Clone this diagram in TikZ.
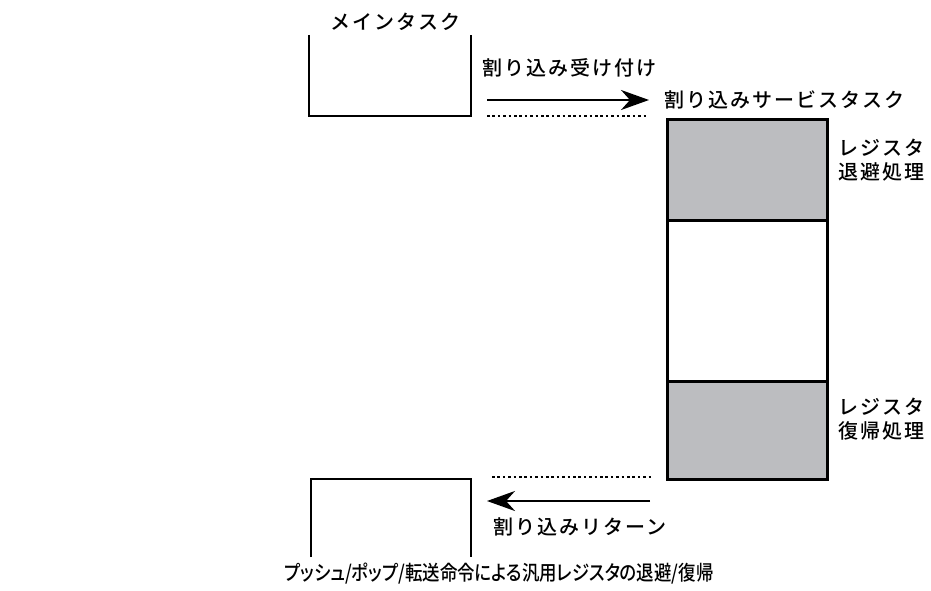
\documentclass[tikz,border=0pt]{standalone}
\usepackage{fontspec}
\usepackage{xcolor}
\newfontfamily\jpfont[LetterSpace=10]{Noto Sans CJK JP Medium}
\newfontfamily\jpnarrow[RawFeature=+palt, FakeStretch=0.85]{Noto Sans CJK JP Medium}
\usetikzlibrary{arrows.meta}
\definecolor{reggray}{HTML}{BCBDC0}

\begin{document}
\begin{tikzpicture}[x=1pt, y=-1pt,
  wall/.style={line width=2.8pt},
  regbox/.style={draw, line width=2.8pt, minimum width=160pt, inner sep=0pt, anchor=north west},
  jlabel/.style={font=\jpfont\fontsize{20}{24}\selectfont, inner sep=0pt},
  arr/.style={line width=2.2pt, -{Stealth[length=28pt,width=20pt,inset=9pt]}},
  dots/.style={line width=2.6pt, dash pattern=on 2.6pt off 2.8pt}]

  \useasboundingbox (0,0) rectangle (931,591);

  % main task (top) and return to it (bottom)
  \node[jlabel] (main) at (395,22) {メインタスク};
  \draw[wall] (309,35) |- (471,116) -- (471,35);
  \draw[wall] (311,557) |- (471,479) -- (471,557);

  % interrupt service task, register save / restore
  \node[regbox, fill=reggray, minimum height=101pt] (save) at (666,118) {};
  \node[regbox, fill=white, minimum height=161pt] (body) at (666,219) {};
  \node[regbox, fill=reggray, minimum height=98pt] (restore) at (666,380) {};

  \node[jlabel, anchor=west] (isr) at (664,100) {割り込みサービスタスク};
  \node[jlabel, anchor=west, align=left] (savelbl) at (838,160) {レジスタ\\退避処理};
  \node[jlabel, anchor=west, align=left] (restlbl) at (838,419) {レジスタ\\復帰処理};

  % accept
  \node[jlabel, anchor=west] (acc) at (482,68) {割り込み受け付け};
  \coordinate (acc-from) at (487,100);
  \coordinate (acc-to) at (649,100);
  \draw[arr] (acc-from) -- (acc-to);
  \draw[dots] (487,116) -- (648,116);

  % return
  \draw[dots] (492,477) -- (653,477);
  \coordinate (ret-from) at (650,501);
  \coordinate (ret-to) at (487,501);
  \draw[arr] (ret-from) -- (ret-to);
  \node[jlabel, anchor=west] (ret) at (493,527) {割り込みリターン};

  \node[font=\jpnarrow\fontsize{20.5}{24}\selectfont, inner sep=0pt] (note) at (499,574)
    {プッシュ/ポップ/転送命令による汎用レジスタの退避/復帰};

\end{tikzpicture}
\end{document}
